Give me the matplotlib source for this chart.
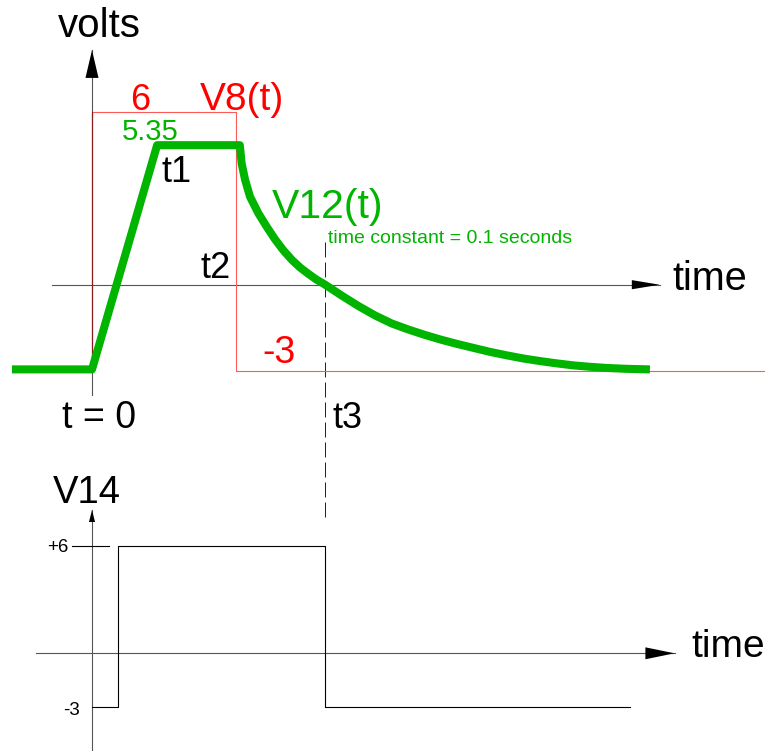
import matplotlib
matplotlib.use("Agg")
import matplotlib.pyplot as plt

plt.rcParams['font.family'] = ['Liberation Sans', 'DejaVu Sans']

# times in ms, voltages in volts (schematic)
t1 = 74.0
t2 = 164.0
t3 = 265.0

v8_t = [-91, 0, 0, t2, t2, 764]
v8_v = [-3, -3, 6, 6, -3, -3]

v12_t = [-91, 0, t1, 168, 170, 174, 179.5, 189, 198.5, 208, 217.4, 227,
         236.4, 245.8, 255, t3, 283.8, 302.6, 321.6, 340.6, 359.4, 378.4,
         396, 414.4, 433.3, 452.3, 471.2, 490.1, 509.1, 528.1, 547, 565.9,
         584.9, 607.6, 634]
v12_v = [-2.95, -2.95, 4.86, 4.86, 4.23, 3.65, 3.07, 2.49, 2.02, 1.58, 1.20,
         0.87, 0.60, 0.38, 0.18, 0.0, -0.38, -0.74, -1.07, -1.35, -1.56,
         -1.75, -1.91, -2.06, -2.20, -2.34, -2.46, -2.57, -2.66, -2.74,
         -2.81, -2.86, -2.90, -2.93, -2.95]

v14_t = [0, 30, 30, t3, t3, 611]
v14_v = [-3, -3, 6, 6, -3, -3]

RED = '#ff0000'
GREEN = '#00b400'
AXIS = '#555555'

fig = plt.figure(figsize=(7.65, 7.51), dpi=100)

# top diagram
ax = fig.add_axes([0, 0, 1, 1])
ax.set_xlim(-92 / 0.88, 673 / 0.88)
ax.set_ylim((284.7 - 751) / 28.71, 284.7 / 28.71)
ax.axis('off')

# bottom diagram, same time scale
axb = fig.add_axes([0, 0, 1, 1])
axb.set_xlim(-92 / 0.88, 673 / 0.88)
axb.set_ylim((653.3 - 751) / 17.95, 653.3 / 17.95)
axb.axis('off')
axb.patch.set_visible(False)


def arrow(a, x0, y0, x1, y1, hl, hw):
    a.plot([x0, x1], [y0, y1], color=AXIS, lw=0.8, zorder=1)
    a.annotate('', xy=(x1, y1), xytext=(x0, y0),
               arrowprops=dict(arrowstyle='-|>,head_length=%g,head_width=%g' % (hl, hw),
                               color='black', lw=0, shrinkA=0, shrinkB=0,
                               mutation_scale=10), zorder=2)


# axes of top diagram
arrow(ax, -45, 0, 645, 0, 2.0, 0.33)
arrow(ax, 0, -3.84, 0, 8.17, 2.0, 0.47)

# V8(t)
ax.plot(v8_t, v8_v, color='#ff5a5a', lw=0.8, zorder=3)
ax.plot([0, 0], [-3, 6], color='#8b1a1a', lw=0.8, zorder=3)

# V12(t)
ax.plot(v12_t, v12_v, color=GREEN, lw=5.8, solid_joinstyle='round',
        solid_capstyle='butt', zorder=4)

# t3 marker
ax.plot([t3, t3], [1.5, -8.09], color='#222222', lw=0.72,
        dashes=[15, 5], zorder=2)

ax.text(-39, 8.62, 'volts', fontsize=29, color='black')
ax.text(43, 6.08, '6', fontsize=26, color=RED)
ax.text(123, 6.08, 'V8(t)', fontsize=28, color=RED)
ax.text(34, 5.04, '5.35', fontsize=21, color=GREEN)
ax.text(79.5, 3.57, 't1', fontsize=26, color='black')
ax.text(204.5, 2.32, 'V12(t)', fontsize=29.5, color=GREEN)
ax.text(268, 1.45, 'time constant = 0.1 seconds', fontsize=14, color=GREEN)
ax.text(123, 0.23, 't2', fontsize=26, color='black')
ax.text(194, -2.72, '-3', fontsize=27, color=RED)
ax.text(-34, -5.0, 't = 0', fontsize=27, color='black')
ax.text(273, -5.0, 't3', fontsize=26, color='black')
ax.text(659, -0.18, 'time', fontsize=28.5, color='black')

# bottom diagram
arrow(axb, -64, 0, 662, 0, 2.1, 0.43)
arrow(axb, 0, -5.44, 0, 7.98, 0.86, 0.22)
axb.plot([-22.7, 19.3], [6, 6], color='black', lw=0.8)
axb.plot(v14_t, v14_v, color='black', lw=0.8)

axb.text(-44, 8.37, 'V14', fontsize=27.5, color='black')
axb.text(-27, 5.87, '+6', fontsize=13.5, ha='right', va='center')
axb.text(-13.6, -3.16, '-3', fontsize=13.5, ha='right', va='center')
axb.text(681, -0.21, 'time', fontsize=28, color='black')

fig.savefig('out.png', dpi=100)
